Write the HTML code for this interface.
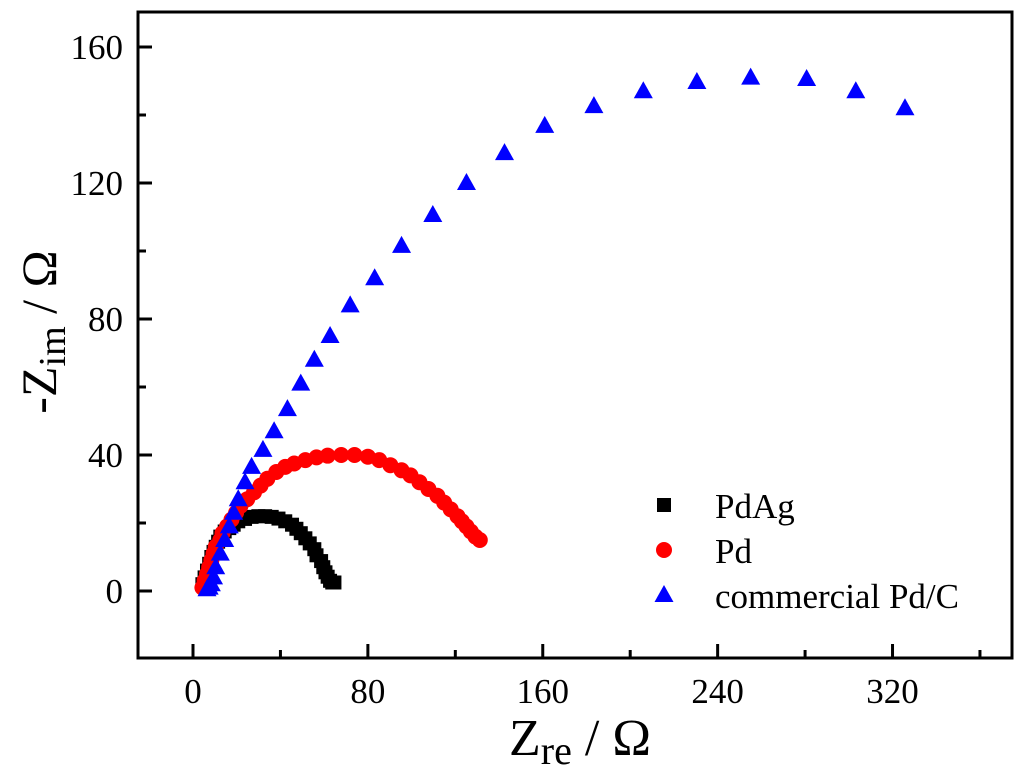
<!DOCTYPE html>
<html><head><meta charset="utf-8"><style>
body{margin:0;background:#fff}
svg{display:block}
text{font-family:"Liberation Serif",serif;fill:#000}
</style></head><body>
<svg id="chart" width="1024" height="778" viewBox="0 0 1024 778" xmlns="http://www.w3.org/2000/svg">
<g id="axes"></g><g id="marks"></g><g id="legend"></g>
<text x="580" y="755" font-size="52" text-anchor="middle">Z<tspan font-size="40" dy="9">re</tspan><tspan dy="-9"> / Ω</tspan></text>
<text transform="translate(56,332) rotate(-90)" font-size="50" text-anchor="middle">-Z<tspan font-size="38" dy="9">im</tspan><tspan dy="-9"> / Ω</tspan></text>
</svg>
<script>
const xTicks=[0,80,160,240,320];
const yTicks=[0,40,80,120,160];
const pdagX=[4.3,5.3,6.4,7.4,8.4,9.4,10.4,11.5,12.5,14.5,16.6,18.6,20.7,23.8,26.8,29.9,33,36,39.1,42.2,45.3,47.3,49.3,51.4,53.4,55.5,56.5,58.6,59.6,60.6,61.6,62.7,63.7,64.7];
const pdagY=[2,4,6,8,10,11.5,13,14.5,16,17.5,18.5,19.5,20.5,21.2,21.8,22,22,21.8,21.3,20.5,19.5,18.3,17,15.5,14,12.3,10.5,8.8,7,5.5,4.2,3,2.5,2.5];
const pdX=[4.3,5.3,6.4,7.4,8.4,9.4,10.4,12.5,13.5,15.6,17.6,19.7,21.7,24.8,27.9,30.9,34,38.1,42.2,46.3,51.4,56.5,61.6,67.8,73.9,80,85.2,90.3,95.4,99.5,103.6,107.7,111.8,114.9,117.9,121,123,125.1,127.1,129.2,131.2];
const pdY=[1,3,5,7,9,11,13,15,17,19,21,23,25,27,29,31,33,35,36.5,37.5,38.5,39.3,39.8,40,40,39.5,38.5,37,35.5,34,32,30,28,26,24,22,20.5,19,17.5,16,15];
const pdcX=[6.4,7.4,8.4,9.4,10.4,12.5,14.5,16.6,18.6,20.7,23.8,26.8,32,37.1,43.2,49.3,55.5,62.7,71.9,83.1,95.4,109.7,125.1,142.5,160.9,183.4,206,230.5,255.1,280.7,303.2,325.7];
const pdcY=[0.5,1,2,4,7,11,15,19,23,27,32,36.5,41.5,47,53.5,61,68,75,84,92,101.5,110.6,120,128.8,136.8,142.6,147,149.7,151,150.6,147,142];
const legendLabels=["PdAg","Pd","commercial Pd/C"];
const L=138,R=1012,T=12,B=658;
const X0=193,XS=2.186,Y0=591,YS=3.4;
const sx=v=>X0+v*XS, sy=v=>Y0-v*YS;
const NS="http://www.w3.org/2000/svg";
function mk(tag,attrs,parent){const e=document.createElementNS(NS,tag);for(const k in attrs)e.setAttribute(k,attrs[k]);parent.appendChild(e);return e;}
const axes=document.getElementById('axes'),marks=document.getElementById('marks'),leg=document.getElementById('legend');
const frame=mk('rect',{x:L,y:T,width:R-L,height:B-T,fill:'none',stroke:'#000','stroke-width':3},axes);


xTicks.forEach(v=>{
  const t=mk('line',{x1:sx(v),x2:sx(v),y1:B,y2:B-14,stroke:'#000','stroke-width':3},axes);
  
  
  const m=mk('line',{x1:sx(v+40),x2:sx(v+40),y1:B,y2:B-8,stroke:'#000','stroke-width':3},axes);
  
  
  const lb=mk('text',{x:sx(v),y:703,'font-size':35,'text-anchor':'middle'},axes);lb.textContent=v;
  
  
});
yTicks.forEach(v=>{
  const t=mk('line',{x1:L,x2:L+14,y1:sy(v),y2:sy(v),stroke:'#000','stroke-width':3},axes);
  
  
  if(v<160){const m=mk('line',{x1:L,x2:L+8,y1:sy(v+20),y2:sy(v+20),stroke:'#000','stroke-width':3},axes);
  
  }
  const lb=mk('text',{x:123,y:sy(v)+12,'font-size':35,'text-anchor':'end'},axes);lb.textContent=v;
  
  
});
function square(x,y,p){return mk('rect',{x:x-7,y:y-7,width:14,height:14,fill:'#000'},p);}
function circle(x,y,p){return mk('circle',{cx:x,cy:y,r:8,fill:'#f00'},p);}
function tri(x,y,p){return mk('polygon',{points:`${x},${y-10} ${x-9.5},${y+7} ${x+9.5},${y+7}`,fill:'#00f'},p);}
pdagX.forEach((v,i)=>{const e=square(sx(v),sy(pdagY[i]),marks);
  
  });
pdX.forEach((v,i)=>{const e=circle(sx(v),sy(pdY[i]),marks);
  
  });
pdcX.forEach((v,i)=>{const e=tri(sx(v),sy(pdcY[i]),marks);
  
  });
const fns=[square,circle,tri];
legendLabels.forEach((s,i)=>{
  const y=505+i*45;
  const m=fns[i](664,y,leg);
  
  
  const t=mk('text',{x:715,y:y+13,'font-size':35},leg);t.textContent=s;
  
  
});
</script>
</body></html>
